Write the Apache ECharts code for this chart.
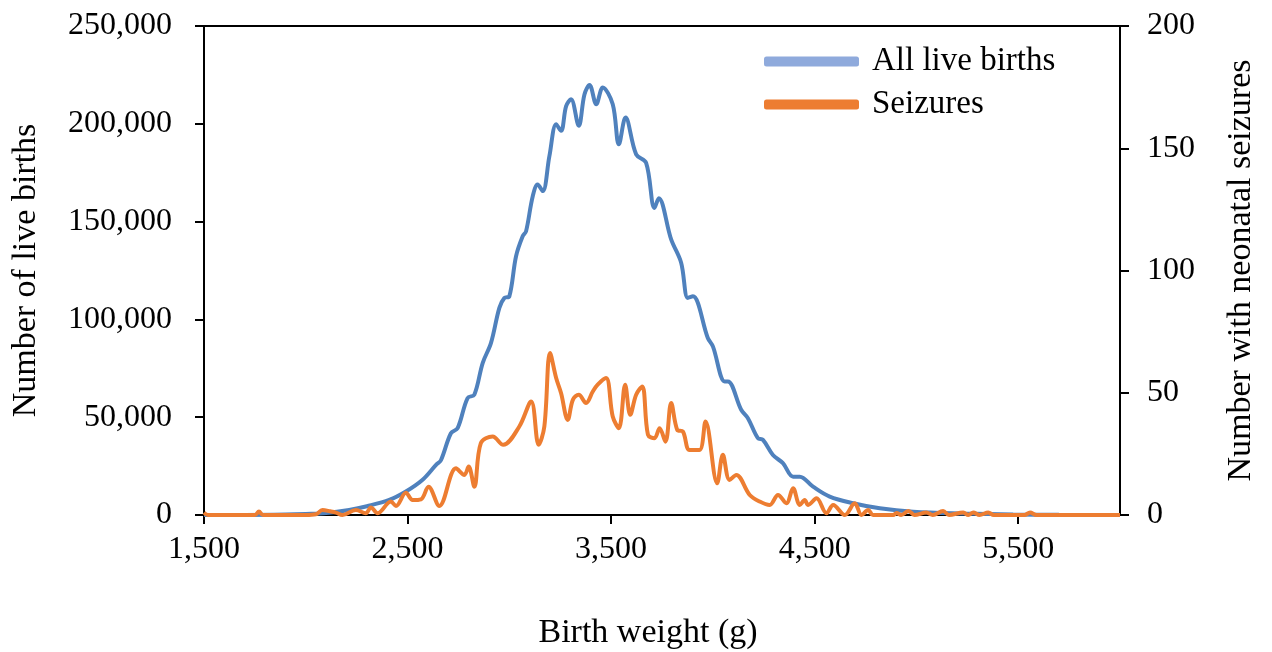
<!DOCTYPE html>
<html>
<head>
<meta charset="utf-8">
<script src="https://cdn.jsdelivr.net/npm/echarts@6/dist/echarts.min.js"></script>
<style>
html,body{margin:0;padding:0;background:#fff;}
#chart{width:1272px;height:652px;}
</style>
</head>
<body>
<div id="chart"></div>
<script>
// ---- data ----
const birthWeights = [1500,1700,1900,2000,2100,2213,2300,2410,2492,2574,2640,2664,2713,2746,2795,2828,2869,2910,2951,2976,3000,3033,3066,3082,3115,3139,3164,3197,3230,3254,3279,3303,3341,3369,3394,3427,3459,3508,3538,3571,3623,3672,3713,3734,3795,3844,3877,3902,3975,4000,4058,4074,4139,4172,4221,4246,4295,4344,4394,4427,4492,4574,4689,4820,4984,5229,5475,5700,6000];
const liveBirths = [0,0,200,500,1000,2600,4500,7700,12000,18000,25600,28000,41800,44400,59800,61500,77700,88000,105900,111000,111800,132300,142600,145000,163000,169000,165600,183600,199800,196400,209000,212600,199000,215000,219800,210000,218600,210000,189500,203200,184400,180000,157000,162000,140900,129000,111000,111800,90500,86200,68300,68300,53800,49500,39300,38400,30700,26500,19600,19600,14500,9400,6000,3400,1700,800,300,100,0];

const seizureWeights = [1500,1520,1750,1770,1790,2000,2050,2082,2120,2148,2180,2246,2295,2320,2353,2418,2443,2492,2525,2566,2603,2656,2738,2779,2800,2828,2860,2918,2970,3049,3107,3144,3172,3200,3230,3254,3287,3312,3341,3377,3410,3434,3475,3508,3538,3569,3594,3623,3653,3681,3713,3738,3767,3795,3825,3853,3885,3934,3964,4021,4049,4082,4115,4181,4230,4279,4320,4361,4394,4427,4451,4468,4509,4558,4591,4648,4697,4730,4763,4787,4886,4902,4925,4961,4990,5049,5080,5131,5160,5230,5255,5279,5310,5353,5380,5530,5558,5590,6000];
const seizures = [1,0,0,1.4,0,0,0.3,2,1.5,1,0,2,0.7,3.1,0.7,5.5,3.7,9.1,6.1,6.4,11.6,3.7,19.1,16.4,19.8,11.6,29.4,32.1,28.7,36.2,46.4,28.7,36.2,66.3,56,49.9,38.9,47.1,49.2,45.8,50.5,53.3,56,40.3,35.5,53.3,41,49.2,52.6,32.8,31.4,35.5,30,45.8,34.8,34.1,26.6,26.6,38.2,13,24.6,14.3,16.4,8.2,5.5,4.1,8.2,4.8,10.9,4.1,6.1,4.1,6.8,0.7,4.1,0,4.8,0,2,0,0,0.8,0,1.6,0,1,0,1.6,0,1,0,1,0,1,0,0,1,0,0];

const xTicks = [1500,2500,3500,4500,5500];
const leftTicks = [0,50000,100000,150000,200000,250000];
const rightTicks = [0,50,100,150,200];

const seriesNames = ['All live births','Seizures'];
const xTitle = 'Birth weight (g)';
const leftTitle = 'Number of live births';
const rightTitle = 'Number with neonatal seizures';

// ---- chart ----
const FONT = "'Times New Roman', 'Liberation Serif', serif";
const fmt = v => Number(v).toLocaleString('en-US');
const zip = (xs, ys) => xs.map((x, i) => [x, ys[i]]);

const chart = echarts.init(document.getElementById('chart'), null, {renderer:'canvas'});
const axisLine = {show:true, lineStyle:{color:'#000', width:2}};
const axisTick = {show:true, inside:false, length:9, lineStyle:{color:'#000', width:2}};

const legendText = {fontFamily:FONT, fontSize:33, color:'#000', padding:[0,0,28,8]};

chart.setOption({
  animation:false,
  backgroundColor:'#fff',
  grid:{left:204, right:152, top:26, bottom:137, show:true, borderColor:'#000', borderWidth:2, containLabel:false, outerBoundsMode:'none'},
  legend:[
    {data:[{name:seriesNames[0], itemStyle:{color:'#8faadc'}}], left:764, top:45, icon:'roundRect', itemWidth:95, itemHeight:10, padding:0, textStyle:legendText, selectedMode:false},
    {data:[{name:seriesNames[1], itemStyle:{color:'#ed7d31'}}], left:764, top:88, icon:'roundRect', itemWidth:95, itemHeight:10, padding:0, textStyle:legendText, selectedMode:false}
  ],
  xAxis:{
    type:'value', min:xTicks[0], max:6000,
    name:xTitle, nameLocation:'middle', nameGap:101,
    nameTextStyle:{fontFamily:FONT, fontSize:34, color:'#000', padding:[0,28,0,0]},
    axisLine:axisLine,
    axisTick:Object.assign({customValues:xTicks}, axisTick),
    axisLabel:{customValues:xTicks, formatter:fmt, fontFamily:FONT, fontSize:32, color:'#000', margin:19},
    splitLine:{show:false}
  },
  yAxis:[
    {
      type:'value', min:leftTicks[0], max:leftTicks[leftTicks.length-1], interval:50000,
      name:leftTitle, nameLocation:'middle', nameGap:161, nameRotate:90,
      nameTextStyle:{fontFamily:FONT, fontSize:34, color:'#000'},
      axisLine:axisLine, axisTick:axisTick,
      axisLabel:{formatter:fmt, fontFamily:FONT, fontSize:32, color:'#000', margin:32},
      splitLine:{show:false}
    },
    {
      type:'value', position:'right', min:rightTicks[0], max:rightTicks[rightTicks.length-1], interval:50,
      name:rightTitle, nameLocation:'middle', nameGap:104, nameRotate:90,
      nameTextStyle:{fontFamily:FONT, fontSize:34, color:'#000'},
      axisLine:axisLine, axisTick:axisTick,
      axisLabel:{formatter:fmt, fontFamily:FONT, fontSize:32, color:'#000', margin:27},
      splitLine:{show:false}
    }
  ],
  series:[
    {name:seriesNames[0], type:'line', yAxisIndex:0, data:zip(birthWeights, liveBirths), smooth:0.35, showSymbol:false, symbol:'none',
     lineStyle:{color:'#4f81bd', width:4}, itemStyle:{color:'#4f81bd'}, z:2},
    {name:seriesNames[1], type:'line', yAxisIndex:1, data:zip(seizureWeights, seizures), smooth:0.35, showSymbol:false, symbol:'none',
     lineStyle:{color:'#ed7d31', width:4}, itemStyle:{color:'#ed7d31'}, z:3}
  ]
});
</script>
</body>
</html>
